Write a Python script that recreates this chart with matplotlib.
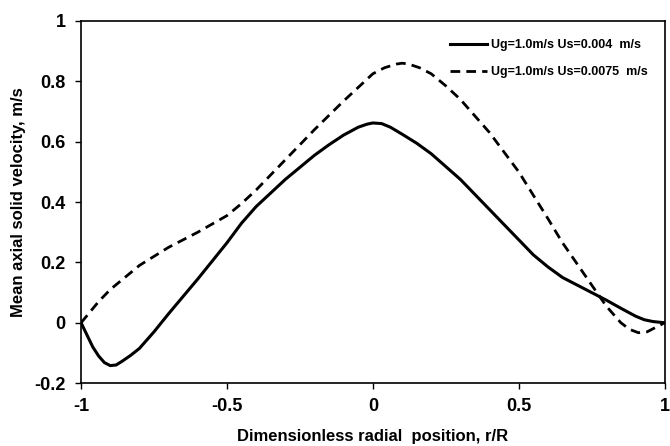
import matplotlib
matplotlib.use("Agg")
import matplotlib.pyplot as plt

# Radial positions and mean axial solid velocities
r_solid = [-1.0, -0.98, -0.96, -0.94, -0.92, -0.9, -0.88, -0.86, -0.83, -0.8,
           -0.75, -0.7, -0.6, -0.5, -0.45, -0.4, -0.35, -0.3, -0.25, -0.2,
           -0.15, -0.1, -0.05, -0.02, 0.0, 0.03, 0.06, 0.1, 0.15, 0.2, 0.3,
           0.4, 0.5, 0.55, 0.6, 0.65, 0.7, 0.75, 0.8, 0.85, 0.9, 0.93, 0.96, 1.0]
v_solid = [0.0, -0.04, -0.08, -0.11, -0.132, -0.142, -0.14, -0.128, -0.108, -0.085,
           -0.03, 0.03, 0.145, 0.265, 0.33, 0.385, 0.43, 0.475, 0.515, 0.555,
           0.59, 0.622, 0.648, 0.658, 0.662, 0.66, 0.648, 0.625, 0.595, 0.56, 0.475,
           0.375, 0.275, 0.225, 0.185, 0.15, 0.125, 0.1, 0.075, 0.048, 0.022, 0.01, 0.004, 0.0]

r_dash = [-1.0, -0.97, -0.94, -0.9, -0.85, -0.8, -0.7, -0.6, -0.5, -0.45, -0.4,
          -0.3, -0.2, -0.1, -0.05, 0.0, 0.04, 0.08, 0.1, 0.12, 0.16, 0.2, 0.25,
          0.3, 0.4, 0.5, 0.6, 0.65, 0.7, 0.75, 0.8, 0.85, 0.88, 0.91, 0.94,
          0.97, 1.0]
v_dash = [0.0, 0.035, 0.07, 0.11, 0.15, 0.19, 0.25, 0.30, 0.355, 0.395, 0.44,
          0.54, 0.64, 0.735, 0.78, 0.825, 0.845, 0.857, 0.86, 0.858, 0.845, 0.825, 0.785,
          0.74, 0.63, 0.50, 0.345, 0.265, 0.195, 0.125, 0.055, 0.0, -0.022, -0.033, -0.03,
          -0.015, 0.0]

labels = ["Ug=1.0m/s Us=0.004  m/s", "Ug=1.0m/s Us=0.0075  m/s"]

plt.rcParams["font.family"] = ["Liberation Sans", "DejaVu Sans"]
plt.rcParams["font.weight"] = "bold"

fig = plt.figure(figsize=(6.7, 4.46), dpi=100)
ax = fig.add_axes([0.121, 0.141, 0.871, 0.812])

ax.plot(r_solid, v_solid, color="black", lw=2.2, label=labels[0])
ax.plot(r_dash, v_dash, color="black", lw=2.0, ls=(0, (3.5, 2.2)), label=labels[1])

ax.set_xlim(-1, 1)
ax.set_ylim(-0.2, 1)
ax.set_xticks([-1, -0.5, 0, 0.5, 1])
ax.set_xticklabels(["-1", "-0.5", "0", "0.5", "1"])
ax.set_yticks([-0.2, 0, 0.2, 0.4, 0.6, 0.8, 1])
ax.set_yticklabels(["-0.2", "0", "0.2", "0.4", "0.6", "0.8", "1"])
ax.tick_params(direction="out", length=4, width=1, labelsize=13, pad=7)
for lab in ax.get_xticklabels() + ax.get_yticklabels():
    lab.set_fontweight("bold")
for s in ax.spines.values():
    s.set_linewidth(1.2)

ax.set_xlabel("Dimensionless radial  position, r/R", fontsize=12,
              fontweight="bold", labelpad=10)
ax.set_ylabel("Mean axial solid velocity, m/s", fontsize=12,
              fontweight="bold", labelpad=6)

ax.legend(loc="upper right", frameon=False, handlelength=3.0,
          handletextpad=0.3, labelspacing=1.2, bbox_to_anchor=(0.99, 0.98),
          prop={"weight": "bold", "size": 9})

fig.savefig("out.png", dpi=100)
